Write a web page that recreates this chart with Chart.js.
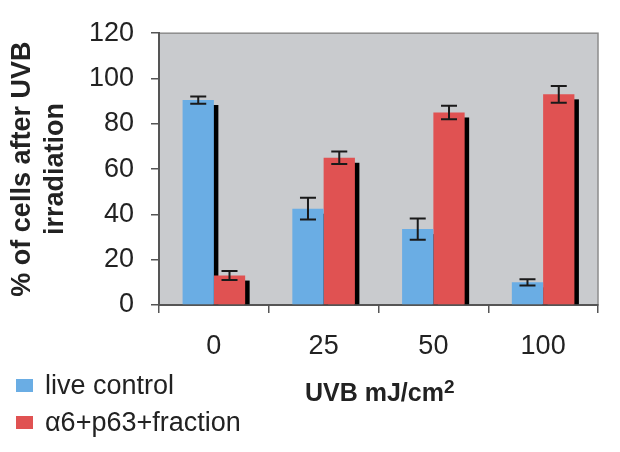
<!DOCTYPE html>
<html>
<head>
<meta charset="utf-8">
<script src="https://cdn.jsdelivr.net/npm/chart.js@4"></script>
<style>
  body { margin: 0; background: #fff; }
  #wrap { position: relative; width: 620px; height: 452px; }
  .legend-item { position: absolute; left: 16px; font: 27px "Liberation Sans", Arial, sans-serif; color: #222; white-space: nowrap; }
  .legend-item span.box { position: absolute; left: 0; width: 17px; height: 13px; }
  .legend-item span.txt { position: absolute; left: 29px; }
  #xtitle { position: absolute; left: 305px; top: 378px; font: bold 25px "Liberation Sans", Arial, sans-serif; color: #222; white-space: nowrap; }
  #xtitle sup { font-size: 19px; vertical-align: 8px; line-height: 0; }
</style>
</head>
<body>
<div id="wrap">
  <canvas id="myChart"></canvas>
  <div id="legend"></div>
  <div id="xtitle">UVB mJ/cm<sup>2</sup></div>
</div>
<script>
const doses = ["0", "25", "50", "100"];
const liveControl = [90.5, 42.5, 33.5, 10];
const liveControlErr = [1.6, 4.8, 4.7, 1.4];
const fraction = [13, 65, 85, 93];
const fractionErr = [2, 2.8, 3, 3.7];
const seriesNames = ["live control", "\u03b16+p63+fraction"];
const seriesColors = ["#6aade4", "#e05252"];
const errors = [liveControlErr, fractionErr];

const fontFamily = '"Liberation Sans", Arial, sans-serif';

// grey plot area with a thin frame
const plotBg = {
    id: "plotBg",
    beforeDraw(chart) {
        const { ctx, chartArea: a } = chart;
        ctx.save();
        ctx.fillStyle = "#c9cbce";
        ctx.fillRect(a.left, a.top, a.right - a.left, a.bottom - a.top);
        ctx.strokeStyle = "#8c8c8c";
        ctx.lineWidth = 1.5;
        ctx.strokeRect(a.left, a.top, a.right - a.left, a.bottom - a.top);
        ctx.restore();
    }
};

// black drop shadow on the right of each bar, drawn before all bars
const barShadow = {
    id: "barShadow",
    beforeDatasetsDraw(chart) {
        const { ctx } = chart;
        ctx.save();
        ctx.fillStyle = "#000";
        chart.data.datasets.forEach((ds, i) => {
            chart.getDatasetMeta(i).data.forEach(bar => {
                const p = bar.getProps(["x", "y", "width", "base"], true);
                const right = p.x + p.width / 2;
                ctx.fillRect(right - 1, p.y + 5, 5.5, p.base - p.y - 5);
            });
        });
        ctx.restore();
    }
};

// error bars
const errorBars = {
    id: "errorBars",
    afterDatasetsDraw(chart) {
        const { ctx } = chart;
        const yScale = chart.scales.y;
        ctx.save();
        ctx.strokeStyle = "#1a1a1a";
        ctx.lineWidth = 2;
        chart.data.datasets.forEach((ds, i) => {
            const meta = chart.getDatasetMeta(i);
            meta.data.forEach((bar, j) => {
                const v = ds.data[j];
                const e = errors[i][j];
                const x = bar.getProps(["x"], true).x;
                const yTop = yScale.getPixelForValue(v + e);
                const yBot = yScale.getPixelForValue(v - e);
                ctx.beginPath();
                ctx.moveTo(x, yTop);
                ctx.lineTo(x, yBot);
                ctx.moveTo(x - 8, yTop);
                ctx.lineTo(x + 8, yTop);
                ctx.moveTo(x - 8, yBot);
                ctx.lineTo(x + 8, yBot);
                ctx.stroke();
            });
        });
        ctx.restore();
    }
};

function buildLegend(chart) {
    const el = document.getElementById("legend");
    const tops = [370, 407];
    chart.data.datasets.forEach((ds, i) => {
        const item = document.createElement("div");
        item.className = "legend-item";
        item.style.top = tops[i] + "px";
        item.innerHTML = '<span class="box" style="top:9px;background:' + ds.backgroundColor + '"></span>' +
            '<span class="txt">' + ds.label + '</span>';
        el.appendChild(item);
    });
}

let chart;

function initChart() {
    const ctx = document.getElementById("myChart").getContext("2d");
    chart = new Chart(ctx, {
        type: "bar",
        data: {
            labels: doses,
            datasets: [{
                label: seriesNames[0],
                backgroundColor: seriesColors[0],
                data: liveControl
            }, {
                label: seriesNames[1],
                backgroundColor: seriesColors[1],
                data: fraction
            }]
        },
        options: {
            responsive: true,
            maintainAspectRatio: false,
            animation: false,
            layout: { padding: { top: 23, right: 22, left: 0, bottom: 0 } },
            datasets: { bar: { categoryPercentage: 0.57, barPercentage: 1 } },
            plugins: {
                legend: { display: false },
                tooltip: { enabled: false }
            },
            scales: {
                x: {
                    grid: { display: true, drawOnChartArea: false, tickLength: 8, color: "#555", lineWidth: 1.5, offset: true },
                    border: { color: "#555", width: 2 },
                    ticks: { color: "#222", padding: 17, font: { family: fontFamily, size: 27 } },
                    afterFit(scale) { scale.height = 147; }
                },
                y: {
                    min: 0,
                    max: 120,
                    ticks: { stepSize: 20, color: "#222", padding: 17, font: { family: fontFamily, size: 27 } },
                    grid: { display: true, drawOnChartArea: false, tickLength: 8, color: "#555", lineWidth: 1.5 },
                    border: { color: "#555", width: 2 },
                    title: {
                        display: true,
                        text: ["% of cells after UVB", "irradiation"],
                        color: "#222",
                        padding: { top: 6, bottom: 0 },
                        font: { family: fontFamily, size: 27, weight: "bold", lineHeight: 1.22 }
                    },
                    afterFit(scale) { scale.width = 159; }
                }
            }
        },
        plugins: [plotBg, barShadow, errorBars]
    });
    buildLegend(chart);
}

document.addEventListener("DOMContentLoaded", function() {
    initChart();
});
</script>
</body>
</html>
